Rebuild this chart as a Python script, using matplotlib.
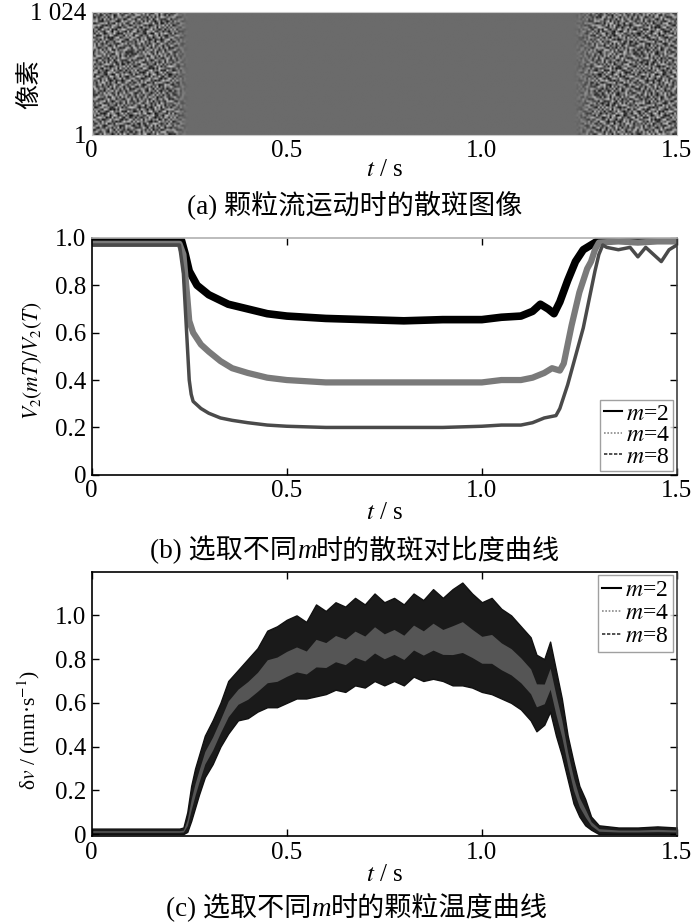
import numpy as np
import matplotlib
matplotlib.use('Agg')
import matplotlib.pyplot as plt
from matplotlib.lines import Line2D
from matplotlib.offsetbox import TextArea, HPacker, AnchoredOffsetbox

# ---------------- data ----------------
x_ticks = [0, 0.5, 1.0, 1.5]
x_tick_labels = ['0', '0.5', '1.0', '1.5']
y_ticks_b = [0, 0.2, 0.4, 0.6, 0.8, 1.0]
y_tick_labels_b = ['0', '0.2', '0.4', '0.6', '0.8', '1.0']
y_ticks_c = [0, 0.2, 0.4, 0.6, 0.8, 1.0]
y_tick_labels_c = ['0', '0.2', '0.4', '0.6', '0.8', '1.0']

# (a) speckle image: hand-typed speckle tile, and speckle contrast vs time
speckle_tile = [
    "830271956403718295064172839501",
    "469315820746192053817264950381",
    "205748631950827416039582714063",
    "971063284517390628451093762845",
    "348592017863450129786304591276",
    "612837490251968743025169834750",
    "057419368724031596872410653928",
    "783260145936872051493628701549",
    "426985703182549307618594230167",
    "190347268059713482605931874203",
    "564812039476205938147062539814",
    "839056412793648120957348016925",
    "275631984020519764328095163748",
    "901478356214837052691473820536",
    "346209871563094817250368941702",
    "718594023647251390846725109384",
    "052367918402863571930248617593",
    "687120459378146205873915402681",
    "439856270196370948162057394820",
    "120743685951829637405381276049",
]
contrast_t = [0.0, 0.205, 0.245, 1.235, 1.295, 1.5]
contrast_v = [1.0, 1.0, 0.0, 0.0, 1.0, 1.0]

# (b) speckle contrast curves
m2_t = [0, 0.22, 0.23, 0.24, 0.25, 0.27, 0.30, 0.35, 0.40, 0.45, 0.50, 0.60, 0.70,
        0.80, 0.90, 1.00, 1.05, 1.10, 1.13, 1.15, 1.17, 1.185, 1.20, 1.22, 1.24,
        1.26, 1.28, 1.30, 1.40, 1.50]
m2_v = [0.985, 0.99, 0.99, 0.93, 0.86, 0.80, 0.76, 0.72, 0.70, 0.68, 0.67, 0.66, 0.655,
        0.65, 0.655, 0.655, 0.665, 0.67, 0.69, 0.72, 0.70, 0.68, 0.73, 0.82, 0.90,
        0.95, 0.97, 0.99, 0.995, 0.995]
m4_t = [0, 0.225, 0.235, 0.245, 0.25, 0.26, 0.28, 0.30, 0.33, 0.36, 0.40, 0.45, 0.50,
        0.60, 0.70, 0.80, 0.90, 1.00, 1.05, 1.10, 1.13, 1.16, 1.18, 1.20, 1.21, 1.22,
        1.23, 1.25, 1.27, 1.28, 1.29, 1.30, 1.35, 1.40, 1.45, 1.50]
m4_v = [0.975, 0.975, 0.93, 0.75, 0.65, 0.60, 0.55, 0.52, 0.48, 0.45, 0.43, 0.41, 0.40,
        0.39, 0.39, 0.39, 0.39, 0.39, 0.40, 0.40, 0.41, 0.43, 0.45, 0.44, 0.47, 0.55,
        0.63, 0.77, 0.87, 0.90, 0.95, 0.98, 0.985, 0.98, 0.985, 0.985]
m8_t = [0, 0.225, 0.235, 0.245, 0.25, 0.255, 0.26, 0.28, 0.30, 0.33, 0.36, 0.40, 0.45,
        0.50, 0.60, 0.70, 0.80, 0.90, 1.00, 1.05, 1.10, 1.13, 1.16, 1.19, 1.20, 1.22,
        1.24, 1.26, 1.27, 1.28, 1.29, 1.30, 1.31, 1.32, 1.35, 1.38, 1.40, 1.42, 1.44,
        1.46, 1.48, 1.50]
m8_v = [0.97, 0.97, 0.85, 0.55, 0.40, 0.34, 0.31, 0.28, 0.26, 0.24, 0.23, 0.22, 0.21,
        0.205, 0.20, 0.20, 0.20, 0.20, 0.205, 0.21, 0.21, 0.22, 0.24, 0.25, 0.28, 0.38,
        0.50, 0.62, 0.70, 0.78, 0.86, 0.93, 0.97, 0.96, 0.95, 0.96, 0.92, 0.96, 0.93,
        0.90, 0.95, 0.97]

# (c) granular temperature band (outer envelopes of the noisy curves)
c_t = [0.00, 0.225, 0.235, 0.245, 0.255, 0.265, 0.275, 0.29, 0.31, 0.33, 0.35,
       0.375, 0.40, 0.425, 0.45, 0.475, 0.50, 0.525, 0.55, 0.575, 0.60, 0.625, 0.65,
       0.675, 0.70, 0.725, 0.75, 0.775, 0.80, 0.825, 0.85, 0.875, 0.90, 0.925, 0.95,
       0.975, 1.00, 1.025, 1.05, 1.075, 1.10, 1.125,
       1.14, 1.16, 1.175, 1.19, 1.205, 1.22, 1.235, 1.25, 1.265, 1.28, 1.30,
       1.35, 1.40, 1.45, 1.50]
c_upper = [0.025, 0.025, 0.03, 0.10, 0.22, 0.30, 0.36, 0.45, 0.52, 0.60, 0.70,
           0.75, 0.80, 0.85, 0.93, 0.95, 0.98, 1.00, 0.97, 1.05, 1.02, 1.06, 1.04,
           1.08, 1.05, 1.10, 1.06, 1.08, 1.05, 1.10, 1.07, 1.12, 1.08, 1.12, 1.15,
           1.10, 1.06, 1.08, 1.03, 1.00, 0.95, 0.90,
           0.82, 0.80, 0.88, 0.75, 0.62, 0.45, 0.33, 0.22, 0.16, 0.08, 0.04,
           0.03, 0.03, 0.035, 0.03]
c_lower = [0.0, 0.0, 0.0, 0.01, 0.06, 0.12, 0.18, 0.26, 0.32, 0.40, 0.46,
           0.52, 0.53, 0.56, 0.58, 0.58, 0.60, 0.62, 0.62, 0.63, 0.64, 0.66, 0.65,
           0.68, 0.67, 0.70, 0.68, 0.70, 0.68, 0.72, 0.70, 0.71, 0.70, 0.68, 0.68,
           0.67, 0.65, 0.64, 0.62, 0.60, 0.57, 0.52,
           0.47, 0.50, 0.56, 0.45, 0.36, 0.25, 0.14, 0.08, 0.04, 0.02, 0.0,
           0.0, 0.0, 0.0, 0.0]

legend_labels = ['$m$=2', '$m$=4', '$m$=8']
# captions: (prefix, italic symbol, suffix)
captions = [('(a) 颗粒流运动时的散斑图像', '', ''),
            ('(b) 选取不同', 'm', '时的散斑对比度曲线'),
            ('(c) 选取不同', 'm', '时的颗粒温度曲线')]

# ---------------- style ----------------
CJK = ['Liberation Serif', 'Noto Sans CJK SC']
plt.rcParams['font.family'] = CJK
plt.rcParams['mathtext.fontset'] = 'stix'
plt.rcParams['font.size'] = 18

fig = plt.figure(figsize=(7, 9.22), dpi=100)
axA = fig.add_axes([0.131, 0.854, 0.836, 0.133])
axB = fig.add_axes([0.131, 0.485, 0.836, 0.257])
axC = fig.add_axes([0.131, 0.093, 0.836, 0.287])

# ---- (a) speckle image ----
w = min(len(r) for r in speckle_tile)
tile = np.array([[int(ch) for ch in r[:w]] for r in speckle_tile], dtype=float)
tile = (tile - 4.5) / 4.5
sq = tile[:, :tile.shape[0]]
variants = [sq, sq.T, np.flipud(sq), np.fliplr(sq.T), np.fliplr(sq),
            np.flipud(sq.T), np.flipud(np.fliplr(sq)), np.flipud(np.fliplr(sq.T))]
n = sq.shape[0]
n_rows, n_cols = 60, 300
nbr, nbc = n_rows // n + 1, n_cols // n + 1
big = np.block([[variants[(i * 3 + j * 5) % 8] for j in range(nbc)] for i in range(nbr)])
img_tile = big[:n_rows, :n_cols]
col_t = (np.arange(n_cols) + 0.5) * 1.5 / n_cols
amp = np.interp(col_t, contrast_t, contrast_v)
img = 0.42 + 0.34 * img_tile * amp[None, :]
axA.imshow(img, extent=(0, 1.5, 1, 1024), origin='lower', aspect='auto',
           cmap='gray', vmin=0, vmax=1, interpolation='bilinear')
axA.set_xlim(0, 1.5)
axA.set_ylim(1, 1024)
axA.set_yticks([1, 1024])
axA.set_yticklabels(['1', '1 024'])
axA.set_xticks(x_ticks)
axA.set_xticklabels(x_tick_labels)
axA.tick_params(length=0, pad=4)
for s in axA.spines.values():
    s.set_color('#c8c8c8')
    s.set_linewidth(0.8)
axA.set_xlabel('$t$ / s', labelpad=-2)
axA.set_ylabel('像素', family=['Noto Sans CJK SC'], fontsize=18)
axA.yaxis.set_label_coords(-0.085, 0.41)

# ---- (b) contrast curves ----
axB.plot(m2_t, m2_v, color='black', lw=5.5, solid_joinstyle='round')
axB.plot(m4_t, m4_v, color='#7a7a7a', lw=4.5, solid_joinstyle='round')
axB.plot(m8_t, m8_v, color='#4a4a4a', lw=2.5, solid_joinstyle='round')
axB.set_xlim(0, 1.5)
axB.set_ylim(0, 1.0)
axB.set_xticks(x_ticks)
axB.set_xticklabels(x_tick_labels)
axB.set_yticks(y_ticks_b)
axB.set_yticklabels(y_tick_labels_b)
axB.tick_params(direction='in', top=True, right=True, length=5, width=1, pad=4)
axB.spines['top'].set_color('#b0b0b0')
axB.spines['right'].set_color('#404040')
for s in axB.spines.values():
    s.set_linewidth(1.2)
axB.set_xlabel('$t$ / s', labelpad=0)
axB.set_ylabel('$V_2(mT)/V_2(T)$', fontsize=15.5)
axB.yaxis.set_label_coords(-0.082, 0.48)
hb = [Line2D([], [], color='black', lw=1.5, ls='-'),
      Line2D([], [], color='#8a8a8a', lw=1.2, ls=(0, (1, 1))),
      Line2D([], [], color='#333333', lw=1.2, ls=(0, (2, 1)))]
legB = axB.legend(hb, legend_labels, loc='lower right', fontsize=17,
                  handlelength=0.8, handletextpad=0.15, labelspacing=0.0,
                  borderpad=0.15, borderaxespad=0.15, frameon=True, fancybox=False)
legB.get_frame().set_edgecolor('#888888')
legB.get_frame().set_linewidth(1.0)

# ---- (c) granular temperature ----
ct = np.array(c_t)
cu = np.array(c_upper)
cl = np.array(c_lower)
axC.fill_between(ct, cl, cu, color='#1a1a1a', lw=1.0, edgecolor='#111111')
axC.fill_between(ct, cl + 0.32 * (cu - cl), cu - 0.38 * (cu - cl), color='#555555', lw=0)
axC.set_xlim(0, 1.5)
axC.set_ylim(-0.01, 1.2)
axC.set_xticks(x_ticks)
axC.set_xticklabels(x_tick_labels)
axC.set_yticks(y_ticks_c)
axC.set_yticklabels(y_tick_labels_c)
axC.tick_params(direction='in', top=True, right=True, length=5, width=1, pad=4)
axC.spines['right'].set_color('#404040')
for s in axC.spines.values():
    s.set_linewidth(1.2)
axC.set_xlabel('$t$ / s', labelpad=0)
axC.set_ylabel('δ$v$ / (mm·s$^{-1}$)', fontsize=15.5)
axC.yaxis.set_label_coords(-0.085, 0.40)
legC = axC.legend(hb, legend_labels, loc='upper right', fontsize=17,
                  handlelength=0.8, handletextpad=0.15, labelspacing=0.05,
                  borderpad=0.2, borderaxespad=0.15, frameon=True, fancybox=False)
legC.get_frame().set_edgecolor('#888888')
legC.get_frame().set_linewidth(1.0)

# ---- captions ----
cap_y = [1 - 205 / 922, 1 - 550 / 922, 1 - 908 / 922]
cap_x = [0.507, 0.507, 0.51]
for (pre, sym, post), x, y in zip(captions, cap_x, cap_y):
    parts = [TextArea(pre, textprops=dict(fontsize=19.5, family=CJK))]
    if sym:
        parts.append(TextArea(sym, textprops=dict(fontsize=19.5, family='Liberation Serif',
                                                  style='italic')))
        parts.append(TextArea(post, textprops=dict(fontsize=19.5, family=CJK)))
    pack = HPacker(children=parts, align='baseline', pad=0, sep=0)
    box = AnchoredOffsetbox(loc='center', child=pack, pad=0, borderpad=0, frameon=False,
                            bbox_to_anchor=(x, y), bbox_transform=fig.transFigure)
    fig.add_artist(box)

fig.savefig('out.png', dpi=100)
